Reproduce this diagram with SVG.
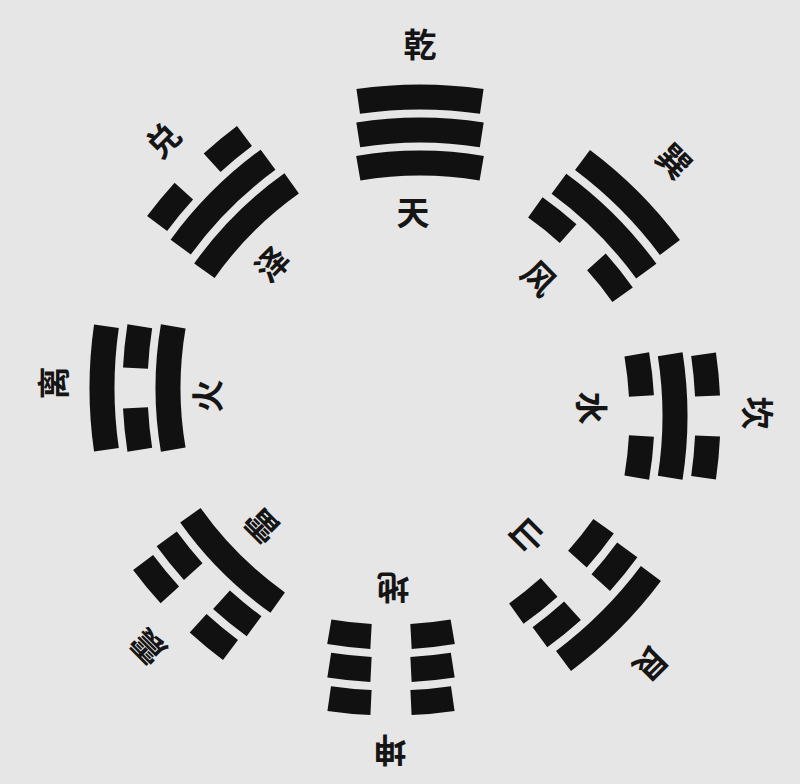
<svg xmlns="http://www.w3.org/2000/svg" xmlns:xlink="http://www.w3.org/1999/xlink" width="800" height="784" viewBox="0 0 800 784">
<style>
.ln{fill:none;stroke:#111;stroke-width:25;stroke-linecap:butt}
.lb{font-family:"Noto Sans CJK SC","Noto Sans CJK TC",sans-serif;font-size:33px;font-weight:700;fill:#151515;text-anchor:middle;dominant-baseline:central}
</style>
<defs>
<path id="so" class="ln" d="M -61.79 -28.57 A 433 433 0 0 1 61.79 -28.57"/>
<path id="sm" class="ln" d="M -61.75 4.80 A 400 400 0 0 1 61.75 4.80"/>
<path id="si" class="ln" d="M -61.71 38.23 A 367 367 0 0 1 61.71 38.23"/>
<path id="bo" class="ln" d="M -61.79 -28.57 A 433 433 0 0 1 -19.99 -32.54 M 19.99 -32.54 A 433 433 0 0 1 61.79 -28.57"/>
<path id="bm" class="ln" d="M -61.75 4.80 A 400 400 0 0 1 -19.99 0.50 M 19.99 0.50 A 400 400 0 0 1 61.75 4.80"/>
<path id="bi" class="ln" d="M -61.71 38.23 A 367 367 0 0 1 -19.99 33.55 M 19.99 33.55 A 367 367 0 0 1 61.71 38.23"/>
</defs>
<rect width="800" height="784" fill="#e6e6e6"/>
<g id="qian">
<g transform="translate(420 130)"><use href="#so"/><use href="#sm"/><use href="#si"/></g>
<text class="lb" x="420" y="43">乾</text>
<text class="lb" x="413" y="211">天</text>
</g>
<g id="xun">
<g transform="translate(606 224) rotate(45)"><use href="#so"/><use href="#sm"/><use href="#bi"/></g>
<text class="lb" x="675" y="160" transform="rotate(45 675 160)">巽</text>
<text class="lb" x="540" y="277" transform="rotate(45 540 277)">风</text>
</g>
<g id="kan">
<g transform="translate(675 416) rotate(90)"><use href="#bo"/><use href="#sm"/><use href="#bi"/></g>
<text class="lb" x="759" y="413" transform="rotate(90 759 413)">坎</text>
<text class="lb" x="593" y="408" transform="rotate(90 593 408)">水</text>
</g>
<g id="gen">
<g transform="translate(587 597) rotate(135)"><use href="#so"/><use href="#bm"/><use href="#bi"/></g>
<text class="lb" x="652" y="665" transform="rotate(135 652 665)">艮</text>
<text class="lb" x="529" y="537" transform="rotate(135 529 537)">山</text>
</g>
<g id="kun">
<g transform="translate(391 670) rotate(180)"><use href="#bo"/><use href="#bm"/><use href="#bi"/></g>
<text class="lb" x="390" y="752" transform="rotate(180 390 752)">坤</text>
<text class="lb" x="393" y="589" transform="rotate(180 393 589)">地</text>
</g>
<g id="zhen">
<g transform="translate(207 586) rotate(-135)"><use href="#bo"/><use href="#bm"/><use href="#si"/></g>
<text class="lb" x="147" y="648" transform="rotate(-135 147 648)">震</text>
<text class="lb" x="261" y="527" transform="rotate(-135 261 527)">雷</text>
</g>
<g id="li">
<g transform="translate(135 388) rotate(-90)"><use href="#so"/><use href="#bm"/><use href="#si"/></g>
<text class="lb" x="52" y="383" transform="rotate(-90 52 383)">离</text>
<text class="lb" x="206" y="396" transform="rotate(-90 206 396)">火</text>
</g>
<g id="dui">
<g transform="translate(221 200) rotate(-45)"><use href="#bo"/><use href="#sm"/><use href="#si"/></g>
<text class="lb" x="162" y="139" transform="rotate(-45 162 139)">兑</text>
<text class="lb" x="271" y="263" transform="rotate(-45 271 263)">泽</text>
</g>
<g id="connectors"/>
</svg>
